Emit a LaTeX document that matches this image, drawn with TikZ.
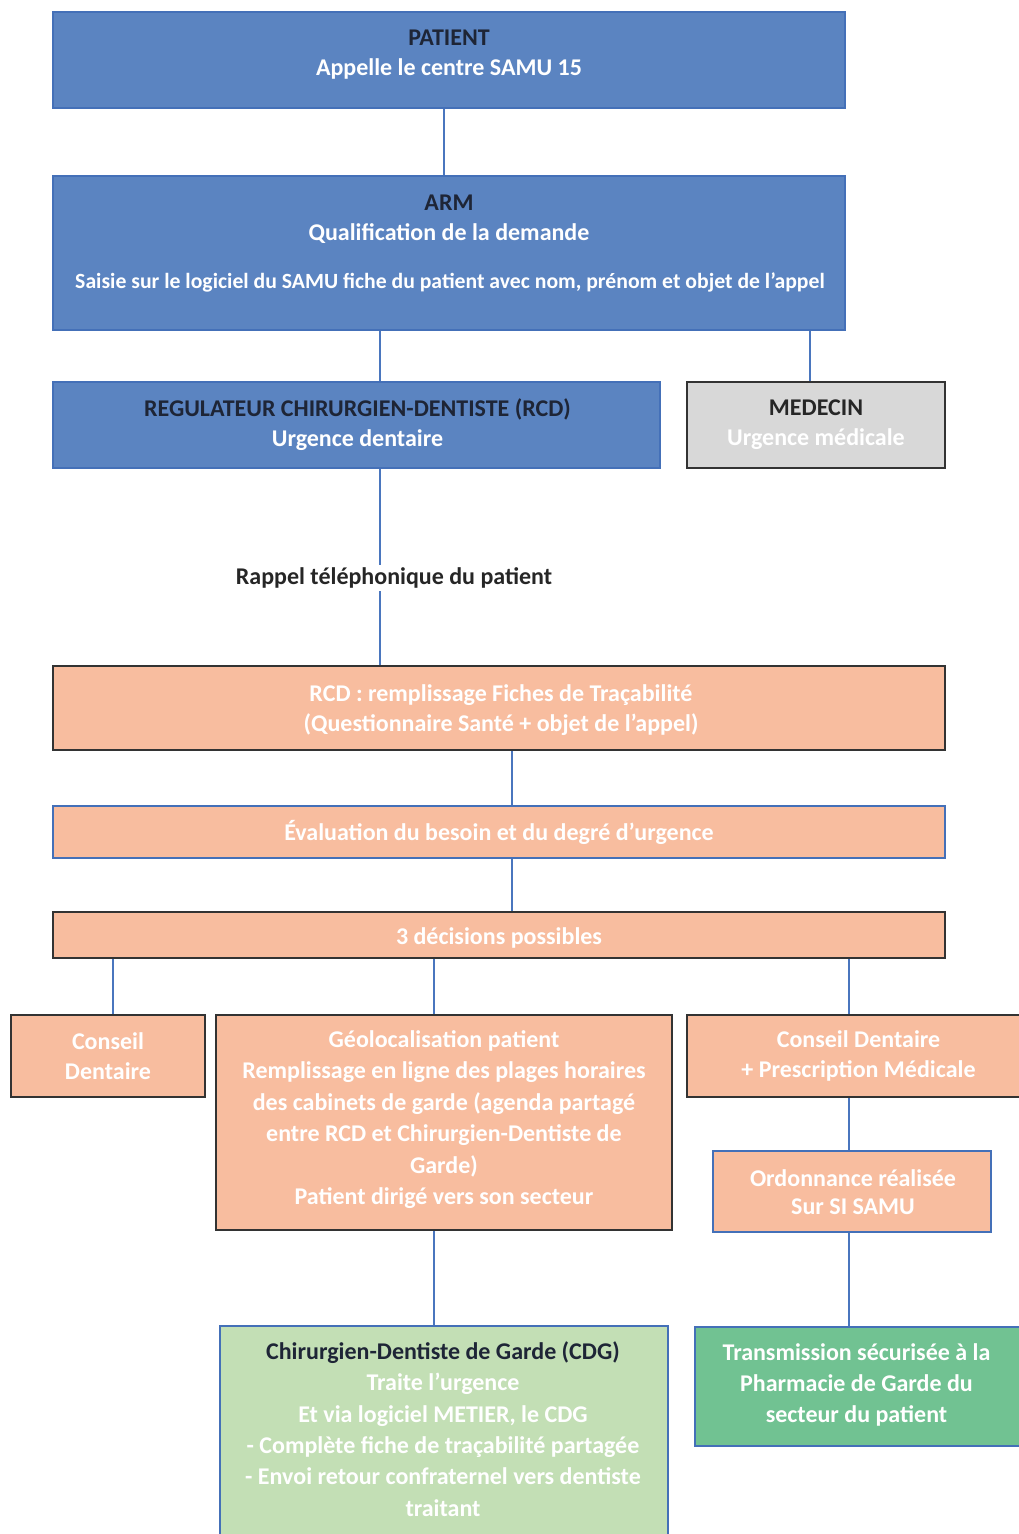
\documentclass[tikz,border=0pt]{standalone}
\usepackage{fontspec}
\setmainfont{Carlito}
\usetikzlibrary{calc}
\definecolor{boxblue}{HTML}{5B84C1}
\definecolor{blueedge}{HTML}{4470B8}
\definecolor{lineblue}{HTML}{4A76BE}
\definecolor{salmon}{HTML}{F8BD9F}
\definecolor{lgreen}{HTML}{C3DFB5}
\definecolor{mgreen}{HTML}{71C292}
\definecolor{gbox}{HTML}{D8D8D8}
\definecolor{darkedge}{HTML}{333333}
\definecolor{darktxt}{HTML}{1E2536}
\definecolor{graytxt}{HTML}{262626}
\tikzset{
  boxbase/.style={rectangle, inner sep=0pt, line width=1.5pt},
  bluebox/.style={boxbase, fill=boxblue, draw=blueedge},
  graybox/.style={boxbase, fill=gbox, draw=darkedge, line width=2pt},
  salbox/.style={boxbase, fill=salmon, draw=darkedge, line width=2pt},
  salbluebox/.style={boxbase, fill=salmon, draw=blueedge, line width=2pt},
  lgbox/.style={boxbase, fill=lgreen, draw=blueedge},
  mgbox/.style={boxbase, fill=mgreen, draw=blueedge},
  txt/.style={inner sep=0pt, align=center, text=white, font=\bfseries\fontsize{24}{30}\selectfont},
  conn/.style={draw=lineblue, line width=1.5pt},
}
\begin{document}
\begin{tikzpicture}[x=1pt,y=-1pt]
\clip (0,0) rectangle (1019,1534);
\fill[white] (0,0) rectangle (1019,1534);

% boxes
\node[bluebox, minimum width=792, minimum height=96] (patient) at (449,60) {};
\node[bluebox, minimum width=792, minimum height=154] (arm) at (449,253) {};
\node[bluebox, minimum width=607, minimum height=86] (rcd) at (356.5,425) {};
\node[graybox, minimum width=258, minimum height=86] (medecin) at (816,425) {};
\node[salbox, minimum width=892, minimum height=84] (fiches) at (499,708) {};
\node[salbluebox, minimum width=892, minimum height=52] (eval) at (499,832) {};
\node[salbox, minimum width=892, minimum height=46] (decis) at (499,935) {};
\node[salbox, minimum width=194, minimum height=82] (conseil) at (108,1056) {};
\node[salbox, minimum width=456, minimum height=215] (geo) at (444,1122.5) {};
\node[salbox, minimum width=343, minimum height=82] (presc) at (858.5,1056) {};
\node[salbluebox, minimum width=278, minimum height=81] (ordo) at (852,1191.5) {};
\node[lgbox, minimum width=448, minimum height=219] (cdg) at (444,1435.5) {};
\node[mgbox, minimum width=326, minimum height=119] (trans) at (858,1386.5) {};

% connectors
\draw[conn] (patient.south -| 444,0) -- (arm.north -| 444,0);
\draw[conn] (arm.south -| 380,0) -- (rcd.north -| 380,0);
\draw[conn] (arm.south -| 810,0) -- (medecin.north -| 810,0);
\draw[conn] (rcd.south -| 380,0) -- (fiches.north -| 380,0);
\draw[conn] (fiches.south -| 512,0) -- (eval.north -| 512,0);
\draw[conn] (eval.south -| 512,0) -- (decis.north -| 512,0);
\draw[conn] (decis.south -| 113,0) -- (conseil.north -| 113,0);
\draw[conn] (decis.south -| 434,0) -- (geo.north -| 434,0);
\draw[conn] (decis.south -| 849,0) -- (presc.north -| 849,0);
\draw[conn] (presc.south -| 849,0) -- (ordo.north -| 849,0);
\draw[conn] (ordo.south -| 849,0) -- (trans.north -| 849,0);
\draw[conn] (geo.south -| 434,0) -- (cdg.north -| 434,0);

% texts
\node[txt] (patienttxt) at (449,55) {\textcolor{darktxt}{PATIENT}\\Appelle le centre SAMU 15};
\node[txt] (armtxt) at (449,219) {\textcolor{darktxt}{ARM}\\Qualification de la demande};
\node[txt, font=\bfseries\fontsize{21.7}{26}\selectfont] (armtxt2) at (450,282) {Saisie sur le logiciel du SAMU fiche du patient avec nom, prénom et objet de l’appel};
\node[txt] (rcdtxt) at (357.5,425) {\textcolor{darktxt}{REGULATEUR CHIRURGIEN-DENTISTE (RCD)}\\Urgence dentaire};
\node[txt] (medtxt) at (816,425) {\textcolor{graytxt}{MEDECIN}\\Urgence médicale};
\node[txt, text=graytxt, fill=white, inner ysep=3pt] (rappel) at (394,578) {Rappel téléphonique du patient};
\node[txt] (fichestxt) at (501,710) {RCD : remplissage Fiches de Traçabilité\\(Questionnaire Santé + objet de l’appel)};
\node[txt] (evaltxt) at (499,832) {Évaluation du besoin et du degré d’urgence};
\node[txt] (decistxt) at (499,938) {3 décisions possibles};
\node[txt] (conseiltxt) at (108,1056) {Conseil\\Dentaire};
\node[txt, font=\bfseries\fontsize{24}{31.4}\selectfont] (geotxt) at (444,1119.5) {Géolocalisation patient\\Remplissage en ligne des plages horaires\\des cabinets de garde (agenda partagé\\entre RCD et Chirurgien-Dentiste de\\Garde)\\Patient dirigé vers son secteur};
\node[txt] (presctxt) at (858.5,1056) {Conseil Dentaire\\+ Prescription Médicale};
\node[txt, font=\bfseries\fontsize{24}{28}\selectfont] (ordotxt) at (853,1192.5) {Ordonnance réalisée\\Sur SI SAMU};
\node[txt, font=\bfseries\fontsize{24}{31.4}\selectfont] (cdgtxt) at (443,1429) {\textcolor{darktxt}{Chirurgien-Dentiste de Garde (CDG)}\\Traite l’urgence\\Et via logiciel METIER, le CDG\\- Complète fiche de traçabilité partagée\\- Envoi retour confraternel vers dentiste\\traitant};
\node[txt, font=\bfseries\fontsize{24}{31}\selectfont] (transtxt) at (856.5,1384.5) {Transmission sécurisée à la\\Pharmacie de Garde du\\secteur du patient};
\end{tikzpicture}
\end{document}
